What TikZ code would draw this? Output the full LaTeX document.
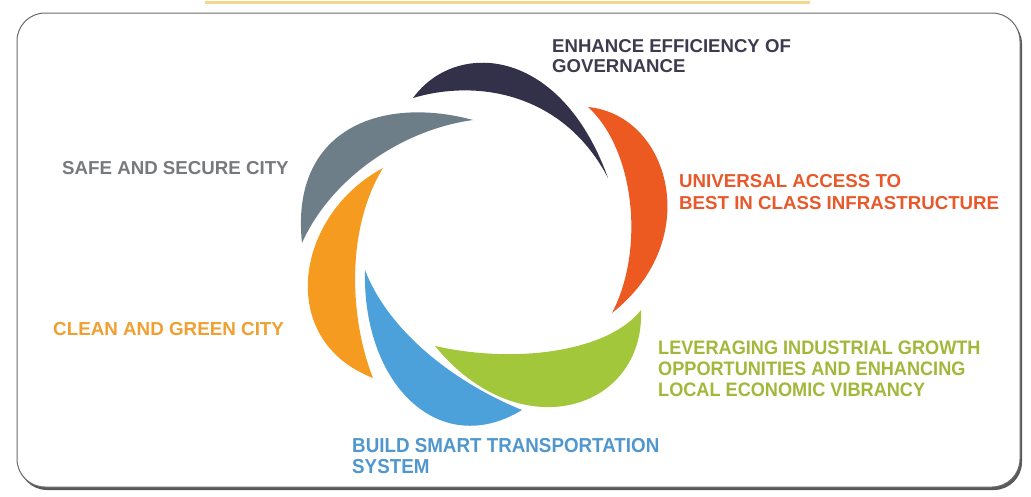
\documentclass[tikz,border=0pt]{standalone}
\usepackage{fontspec}
\setmainfont{Liberation Sans}
\newfontfamily\lblfont{Liberation Sans Bold}
\newfontfamily\lblnarrow[FakeStretch=0.93]{Liberation Sans Bold}
\usetikzlibrary{shadows}
\definecolor{cnavy}{HTML}{33314A}
\definecolor{cred}{HTML}{EC5A22}
\definecolor{cgreen}{HTML}{A2C73B}
\definecolor{cblue}{HTML}{4DA1DB}
\definecolor{corange}{HTML}{F59B20}
\definecolor{cgray}{HTML}{6E7E88}
\definecolor{tnavy}{HTML}{3D3C4E}
\definecolor{tred}{HTML}{E8582A}
\definecolor{tgreen}{HTML}{A2B83A}
\definecolor{tblue}{HTML}{4F97CE}
\definecolor{torange}{HTML}{F0A030}
\definecolor{tgray}{HTML}{77797D}
\definecolor{cframe}{HTML}{6A6A6A}
\definecolor{cyellow}{HTML}{F3D78C}
\begin{document}
\begin{tikzpicture}[x=1pt,y=-1pt,
  lbl/.style={anchor=north west, inner sep=0pt, align=left},
  petal/.style={draw=none}]
\useasboundingbox (0,0) rectangle (1031,496);
\fill[white] (0,0) rectangle (1031,496);
% top yellow line
\coordinate (yl1) at (205,2);
\coordinate (yl2) at (810,2);
\draw[cyellow, line width=3pt] (yl1) -- (yl2);
% frame
\draw[cframe, line width=1pt, fill=white, rounded corners=28pt,
  drop shadow={shadow xshift=2pt, shadow yshift=-3pt, fill=black!65, opacity=1}]
  (17,13) rectangle (1020,487);
% petals
\fill[cnavy, petal] (413,98) .. controls (455,40) and (560,45) .. (608,178)
  .. controls (565,95) and (480,78) .. (413,98) -- cycle;
\fill[cred, petal] (588,107) .. controls (670,115) and (705,240) .. (612,313)
  .. controls (645,250) and (635,150) .. (588,107) -- cycle;
\fill[cblue, petal] (365,270) .. controls (362,385) and (440,460) .. (522,410)
  .. controls (460,385) and (390,335) .. (365,270) -- cycle;
\fill[cgreen, petal] (641,310) .. controls (645,410) and (520,450) .. (435,346)
  .. controls (520,365) and (610,350) .. (641,310) -- cycle;
\fill[corange, petal] (383,168) .. controls (295,215) and (275,340) .. (373,378)
  .. controls (350,320) and (345,230) .. (383,168) -- cycle;
\fill[cgray, petal] (473,120) .. controls (380,95) and (290,130) .. (302,243)
  .. controls (330,180) and (400,130) .. (473,120) -- cycle;
% labels
\node[lbl, text=tnavy, font={\lblfont\fontsize{18.6}{20}\selectfont}] (gov) at (552,39.3)
  {ENHANCE EFFICIENCY OF\\GOVERNANCE};
\node[lbl, text=tred, font={\lblfont\fontsize{18.7}{21.5}\selectfont}] (infra) at (679,174.7)
  {UNIVERSAL ACCESS TO\\BEST IN CLASS INFRASTRUCTURE};
\node[lbl, text=tgreen, font={\lblnarrow\fontsize{19.5}{21}\selectfont}] (econ) at (658,341)
  {LEVERAGING INDUSTRIAL GROWTH\\OPPORTUNITIES AND ENHANCING\\LOCAL ECONOMIC VIBRANCY};
\node[lbl, text=tgray, font={\lblfont\fontsize{18.7}{20}\selectfont}] (safe) at (62,161.7)
  {SAFE AND SECURE CITY};
\node[lbl, text=torange, font={\lblfont\fontsize{18.8}{20}\selectfont}] (clean) at (53,322)
  {CLEAN AND GREEN CITY};
\node[lbl, text=tblue, font={\lblnarrow\fontsize{20.2}{21}\selectfont}] (trans) at (352,438.3)
  {BUILD SMART TRANSPORTATION\\SYSTEM};
\end{tikzpicture}
\end{document}
